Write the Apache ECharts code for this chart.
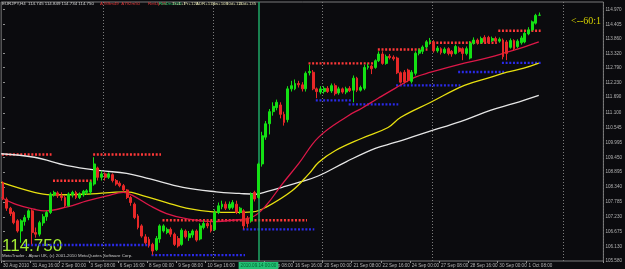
<!DOCTYPE html>
<html><head><meta charset="utf-8">
<script src="https://cdn.jsdelivr.net/npm/echarts@6/dist/echarts.min.js"></script>
<style>html,body{margin:0;padding:0;background:#0b0b0e;}#c{width:625px;height:269px;}</style>
</head><body><div id="c"></div>
<script>
// ---- data ----
const slotCount = 165; // bars + chart shift area
const xTickLabels = ['30 Aug 2010','31 Aug 16:00','2 Sep 00:00','3 Sep 08:00','6 Sep 16:00','8 Sep 00:00','9 Sep 08:00','10 Sep 16:00','14 Sep 00:00','15 Sep 08:00','16 Sep 16:00','20 Sep 00:00','21 Sep 08:00','22 Sep 16:00','24 Sep 00:00','27 Sep 08:00','28 Sep 16:00','30 Sep 00:00','1 Oct 08:00'];
const xTickStep = 8;
const hiddenTick = 8; // covered by the vertical-line time box
const yTickValues = [105.580,106.130,106.675,107.230,107.785,108.340,108.895,109.450,109.995,110.545,111.100,111.690,112.230,112.790,113.320,113.860,114.405,114.970];
const separatorIdx = [28, 58, 88, 118, 154];
const vLineIdx = 70;
const vLineLabel = '2010.09.14 00:00';
const lastPrice = 114.750;

// [open, close, low, high]
const ohlc = [
[108.50,107.90,107.85,108.55],[107.88,107.55,107.45,107.95],[107.55,107.35,107.26,107.60],[107.39,107.01,106.95,107.45],
[107.08,106.70,106.64,107.14],[106.70,107.08,106.26,107.14],[107.05,107.20,106.90,107.30],[107.20,107.45,107.10,107.51],
[107.45,106.64,106.20,107.51],[106.64,106.58,106.45,106.83],[106.58,107.01,106.50,107.08],[107.00,107.23,106.89,107.33],
[107.23,107.39,107.08,107.45],[107.39,108.08,107.33,108.14],[108.05,108.14,107.98,108.20],[108.12,108.01,107.93,108.18],
[108.01,107.95,107.83,108.14],[107.95,107.64,107.58,108.01],[107.64,108.08,107.60,108.14],[108.05,108.14,107.95,108.20],
[108.14,107.95,107.89,108.20],[107.95,108.08,107.89,108.14],[108.05,108.18,107.98,108.23],[108.14,108.20,108.05,108.26],
[108.15,108.51,108.05,108.58],[108.45,109.20,108.39,109.45],[109.05,108.70,108.58,109.10],[108.70,108.83,108.58,108.95],
[108.83,108.70,108.58,108.89],[108.70,108.83,108.64,108.89],[108.80,108.58,108.51,108.85],[108.58,108.45,108.39,108.64],
[108.48,108.39,108.33,108.55],[108.39,108.23,108.16,108.45],[108.23,107.95,107.89,108.26],[107.95,107.76,107.64,108.01],
[107.70,107.20,107.14,107.76],[107.26,106.83,106.76,107.33],[106.89,106.51,106.45,106.95],[106.48,106.26,106.20,106.58],
[106.39,106.17,106.08,106.48],[106.20,105.95,105.80,106.26],[106.00,106.42,105.95,106.51],[106.40,106.89,106.26,106.95],
[106.70,106.89,106.64,106.95],[106.64,106.76,106.58,106.83],[106.76,106.58,106.48,106.83],[106.58,106.20,106.14,106.64],
[106.42,106.14,106.08,106.51],[106.20,106.73,106.15,106.80],[106.70,106.48,106.42,106.76],[106.45,106.60,106.33,106.70],
[106.55,106.70,106.45,106.76],[106.70,106.36,106.30,106.76],[106.40,106.89,106.35,106.98],[106.83,106.98,106.76,107.08],
[106.98,106.89,106.80,107.14],[106.92,106.70,106.64,107.08],[106.75,107.39,106.70,107.51],[107.39,107.64,107.33,107.76],
[107.60,107.70,107.51,107.83],[107.70,107.55,107.48,107.80],[107.55,107.70,107.48,107.80],[107.58,107.76,107.51,107.85],
[107.70,107.39,107.33,107.83],[107.39,107.55,107.33,107.60],[107.45,106.89,106.76,107.51],[107.18,106.98,106.83,107.26],
[107.08,108.08,107.01,108.14],[108.14,107.89,107.80,108.20],[107.95,109.20,107.90,109.25],[109.20,110.25,109.10,110.40],
[110.20,110.70,110.10,110.80],[110.70,111.15,110.30,111.25],[111.15,111.35,111.00,111.50],[111.30,111.50,111.20,111.60],
[111.40,111.05,110.90,111.50],[111.05,110.75,110.63,111.15],[110.85,112.00,110.75,112.10],[112.00,112.12,111.90,112.30],
[112.00,112.20,111.95,112.35],[112.20,112.15,112.05,112.30],[112.15,112.00,111.90,112.25],[112.00,112.58,111.90,112.65],
[112.60,112.65,112.50,112.90],[112.62,112.00,111.95,112.70],[112.00,111.90,111.65,112.05],[111.88,112.00,111.80,112.10],
[111.90,112.02,111.82,112.10],[112.02,111.90,111.85,112.10],[111.92,112.12,111.85,112.20],[112.12,111.82,111.75,112.20],
[111.85,112.00,111.78,112.08],[112.00,111.88,111.82,112.05],[111.88,112.00,111.80,112.08],[112.02,111.93,111.88,112.10],
[111.95,112.40,111.50,112.50],[112.40,111.95,111.88,112.45],[111.95,112.05,111.90,112.12],[112.02,112.80,111.95,112.90],
[112.80,112.85,112.72,112.95],[112.85,112.75,112.55,112.90],[112.80,113.05,112.75,113.10],[113.05,113.30,113.00,113.40],
[113.30,112.95,112.90,113.40],[112.95,113.20,112.90,113.28],[113.22,113.17,113.10,113.30],[113.18,113.12,113.05,113.25],
[113.15,112.60,112.55,113.20],[112.60,112.25,112.20,112.65],[112.62,112.26,112.20,112.70],[112.70,112.32,112.25,112.75],
[112.28,112.62,112.20,112.70],[112.58,113.33,112.50,113.40],[113.33,113.45,113.25,113.50],[113.40,113.56,113.30,113.62],
[113.56,113.75,113.50,113.82],[113.75,113.80,113.65,113.90],[113.75,113.42,113.35,113.82],[113.42,113.52,113.35,113.60],
[113.50,113.35,113.28,113.55],[113.35,113.48,113.30,113.55],[113.50,113.32,113.25,113.55],[113.40,113.30,113.20,113.45],
[113.32,113.58,113.28,113.65],[113.52,113.40,113.35,113.58],[113.50,113.32,113.07,113.55],[113.32,113.50,113.25,113.58],
[113.15,113.70,113.10,113.78],[113.70,113.82,113.65,113.92],[113.82,113.72,113.65,113.88],[113.72,113.88,113.68,113.95],
[113.92,113.75,113.70,114.00],[113.92,113.72,113.68,113.98],[113.80,113.88,113.75,113.95],[113.88,113.78,113.72,113.95],
[113.78,113.85,113.72,113.92],[113.82,113.20,113.10,113.88],[113.75,113.32,113.07,113.82],[113.55,113.80,113.50,113.88],
[113.80,113.50,113.42,113.85],[113.58,113.78,113.52,113.85],[113.72,113.90,113.65,113.98],[113.75,114.07,113.70,114.12],
[114.05,114.20,114.00,114.30],[114.20,114.50,114.15,114.55],[114.45,114.74,114.40,114.80],[114.745,114.750,114.734,114.849]
];

// moving averages: [bar index, price]
const maRed = [[-0.5,107.95],[4,107.67],[8.6,107.51],[11.3,107.45],[17.6,107.60],[23,107.82],[28.5,108.01],[33,108.14],[35.7,108.01],[40.3,107.64],[44.8,107.35],[50.2,107.16],[57.5,107.05],[62.9,107.10],[68.3,107.22],[72,107.64],[76.5,108.45],[81,109.21],[86.5,110.20],[94.6,111.00],[98.2,111.27],[102.8,111.65],[107.4,112.02],[112.8,112.43],[117.2,112.62],[126.4,112.96],[133.5,113.18],[138.1,113.37],[142.7,113.56],[146.8,113.75]];
const maYellow = [[-0.5,108.51],[8.6,108.14],[13.1,108.05],[22.1,108.07],[33.9,108.16],[38.5,108.01],[44.8,107.76],[50.2,107.55],[57.5,107.41],[62.9,107.39],[68.4,107.41],[72,107.58],[79.2,108.20],[83.8,108.83],[86.5,109.26],[91.1,109.70],[98.2,110.15],[105.5,110.56],[109,110.94],[117.2,111.50],[126.4,112.13],[133.5,112.43],[138.1,112.62],[142.7,112.77],[146.8,112.96]];
const maWhite = [[-0.5,109.58],[8.6,109.45],[17.6,109.14],[26.7,108.95],[33.9,108.85],[40.3,108.64],[49.3,108.33],[58.4,108.16],[64.7,108.10],[69.3,108.07],[72,108.16],[76.5,108.33],[81,108.51],[86.5,108.76],[94,109.28],[102,109.78],[107.4,110.00],[116.4,110.40],[125.3,110.78],[133.5,111.20],[140,111.46],[146.8,111.76]];

// level indicator segments: [from bar, to bar, price]
const redLevels = [[0,13,109.55],[14,24,108.575],[25,43,109.55],[44,83,107.10],[84,102,112.95],[103,116,113.47],[116,135,113.72],[136,147,114.17]];
const blueLevels = [[6,40,106.175],[41,66,105.80],[66,85,106.76],[86,95,111.57],[95,108,111.42],[108,125,112.13],[125,137,112.63],[137,147,112.97]];

// ---- build ----
const categories = [];
{ let t = Date.UTC(2010,7,30,8);
  while (categories.length < slotCount) {
    const d = new Date(t); const wd = d.getUTCDay();
    if (wd !== 0 && wd !== 6) categories.push(d.toISOString().slice(0,16).replace('T',' '));
    t += 4*3600*1000;
  } }
const tickMap = {};
xTickLabels.forEach((s,k)=>{ if (k !== hiddenTick) tickMap[k*xTickStep] = s; });

const chart = echarts.init(document.getElementById('c'), null, {renderer:'canvas'});
const levelSeries = (arr, color) => arr.map(s => ({
  type:'line', xAxisIndex:1, yAxisIndex:0, symbol:'none', silent:true, animation:false,
  data:[[s[0]-0.3, s[2]],[s[1]+0.3, s[2]]],
  lineStyle:{color, width:2.4, type:[2,1.68]}, z:3
}));
const maSeries = (data, color) => ({
  type:'line', xAxisIndex:1, yAxisIndex:0, symbol:'none', smooth:0.4, silent:true, animation:false,
  data, lineStyle:{color, width:1.3}, z:4
});
const F = '"Liberation Sans", Arial, sans-serif';
const small = (text, left, color) => ({type:'text', left, top:2, silent:true,
  style:{text, fill:color, font:'4.4px ' + F}});

chart.setOption({
  backgroundColor:'#0b0b0e',
  animation:false,
  grid:{left:0, right:18, top:2, bottom:8, show:true, borderColor:'#7a7a7a', borderWidth:1, backgroundColor:'transparent'},
  xAxis:[{
    type:'category', data:categories, boundaryGap:true,
    axisLine:{show:false},
    axisTick:{show:true, length:2, lineStyle:{color:'#909090'}, interval:(i)=> tickMap[i] !== undefined},
    axisLabel:{show:true, interval:(i)=> tickMap[i] !== undefined, formatter:(v,i)=> tickMap[i] || '',
      color:'#b4b4b4', fontSize:4.6, fontFamily:'Liberation Sans', align:'left', margin:2},
    splitLine:{show:true, interval:(i)=> separatorIdx.includes(i), lineStyle:{color:'#7c7c7c', type:[1,2], width:1}}
  },{
    type:'value', min:-0.5, max:slotCount-0.5, show:false
  }],
  yAxis:[{
    type:'value', position:'right', min:105.58, max:115.24, scale:true,
    axisLine:{show:false},
    axisTick:{show:true, length:2, customValues:yTickValues, lineStyle:{color:'#909090'}},
    axisLabel:{show:true, customValues:yTickValues, formatter:(v)=> v.toFixed(3),
      color:'#b4b4b4', fontSize:4.6, fontFamily:'Liberation Sans', margin:2},
    splitLine:{show:false}
  }],
  series:[
    maSeries(maWhite, '#e6e6e6'),
    maSeries(maYellow, '#e8e010'),
    maSeries(maRed, '#dc1848'),
    ...levelSeries(redLevels, '#ff3838'),
    ...levelSeries(blueLevels, '#2a2ae8'),
    {
      type:'candlestick', xAxisIndex:0, yAxisIndex:0, data:ohlc, barWidth:2.4, z:5,
      itemStyle:{color:'#14e014', color0:'#e82828', borderColor:'#14e014', borderColor0:'#e82828', borderWidth:1},
      markLine:{
        symbol:'none', silent:true, animation:false,
        data:[
          {xAxis:categories[vLineIdx], lineStyle:{color:'#1fa866', width:1.5, type:'solid'},
           label:{show:true, position:'start', formatter:vLineLabel, color:'#063', backgroundColor:'#22c074',
                  fontSize:4.6, fontFamily:'Liberation Sans', padding:[1,2], distance:1}},
          {yAxis:lastPrice, lineStyle:{opacity:0, width:0},
           label:{show:true, position:'end', formatter:lastPrice.toFixed(3), color:'#000', backgroundColor:'#ececec',
                  fontSize:4.6, fontFamily:'Liberation Sans', padding:[0,1], distance:2}}
        ]
      }
    }
  ],
  graphic:[
    small('EURJPY,H4  114.745 114.849 114.734 114.750', 2, '#d8d8d8'),
    small('A789m49  A792m50', 100, '#e23a3a'),
    small('RetUp 15', 148, '#e23a3a'),
    small('RmDn=100', 159, '#2cd070'),
    small('Tr+1+1', 172, '#dcdcae'),
    small('Pr+123', 184, '#dcdcae'),
    small('ADR+113', 196, '#dcdcae'),
    small('Sw+108', 212, '#dcdcae'),
    small('10d+111', 226, '#dcdcae'),
    small('20d+135', 239, '#dcdcae'),
    {type:'text', left:571, top:16, silent:true, style:{text:'<--60:1', fill:'#d4d000', font:'10px "Liberation Serif", serif'}},
    {type:'text', left:2, top:238, silent:true, style:{text:'114.750', fill:'#a4ec34', font:'17px ' + F}},
    {type:'text', left:2, top:254, silent:true, style:{text:'MetaTrader - Alpari UK, (c) 2001-2010 MetaQuotes Software Corp.', fill:'#c8c8c8', font:'4.4px ' + F}}
  ]
});
</script>
</body></html>
